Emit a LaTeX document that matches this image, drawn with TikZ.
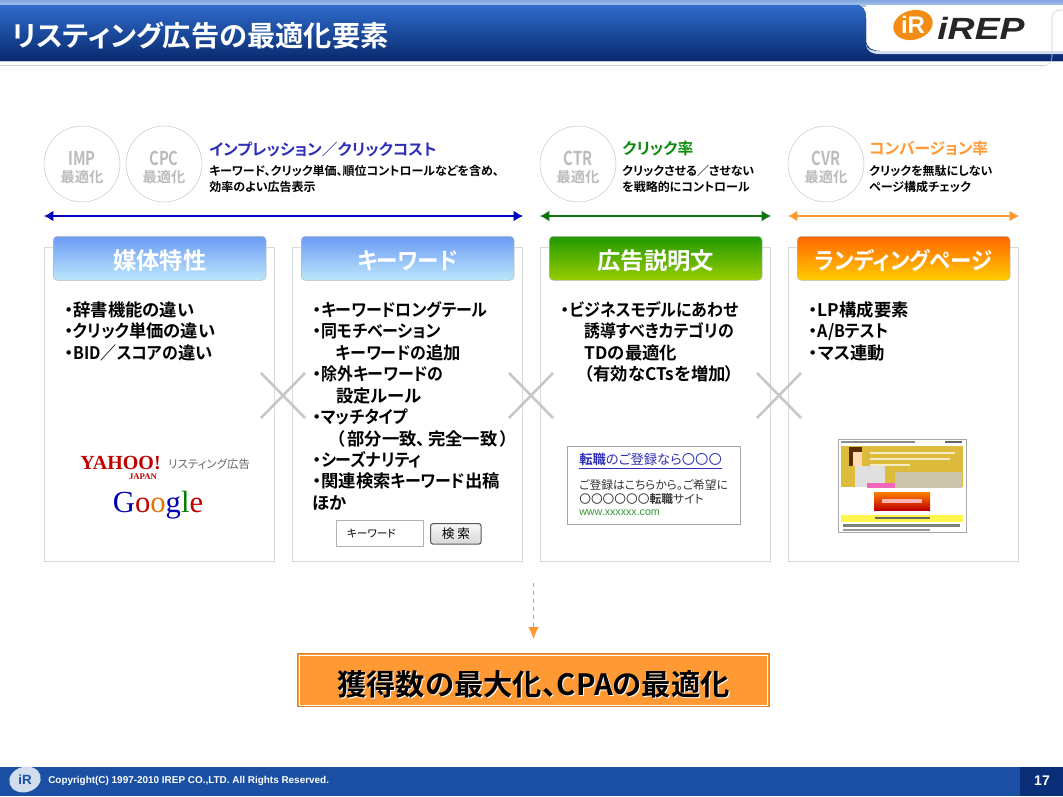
\documentclass[tikz,border=0pt]{standalone}
\usepackage{fontspec}
\setmainfont{Noto Sans CJK JP}[BoldFont={Noto Sans CJK JP Bold},RawFeature={+palt}]
\newfontfamily\latinfont{Liberation Sans}
\newfontfamily\logoserif{Liberation Serif}
\usepackage{xcolor}
\usetikzlibrary{shapes,arrows,arrows.meta,positioning,fit,calc}
\definecolor{navytop}{HTML}{2F6BCB}
\definecolor{navybot}{HTML}{08296E}
\definecolor{footblue}{HTML}{1A4FA3}
\definecolor{footdark}{HTML}{0A2F78}
\definecolor{bluehead}{HTML}{6C9BF5}
\definecolor{bluelow}{HTML}{BCE6FA}
\definecolor{greenhead}{HTML}{1F9900}
\definecolor{greenlow}{HTML}{99CC00}
\definecolor{orangehead}{HTML}{FF6600}
\definecolor{orangelow}{HTML}{FFCC00}
\definecolor{impgrey}{HTML}{BBBBBB}
\definecolor{linkblue}{HTML}{2E2EB8}
\definecolor{clickgreen}{HTML}{0E8A0E}
\definecolor{cvorange}{HTML}{FF9933}
\definecolor{panelline}{HTML}{D8D8D8}
\definecolor{logoorange}{HTML}{F28C12}
\definecolor{lpgold}{HTML}{DDBB3C}
\tikzset{
  optcircle/.style={draw=impgrey!80, fill=white, circle, minimum size=57, inner sep=0, align=center, text=impgrey, font=\bfseries\fontsize{13}{15}\selectfont},
  kindlabel/.style={anchor=west, inner sep=0, font=\bfseries\fontsize{11.85}{14}\selectfont},
  kindnote/.style={anchor=north west, inner sep=0, align=left, font=\bfseries\fontsize{9}{12}\selectfont},
  spanarrow/.style={{Latex[length=7,width=8]}-{Latex[length=7,width=8]}, line width=0.9},
  panel/.style={draw=panelline, fill=white, minimum width=172.6, minimum height=235.2, anchor=north west, inner sep=0},
  head/.style={draw=gray!55, rounded corners=3, minimum width=159.6, minimum height=33, anchor=north west, inner sep=0, text=white, text height=20pt, text depth=3pt, font=\bfseries\fontsize{17.5}{18}\selectfont},
  bluehd/.style={head, top color=bluehead, bottom color=bluelow},
  greenhd/.style={head, top color=greenhead, bottom color=greenlow},
  orangehd/.style={head, top color=orangehead, bottom color=orangelow},
  listing/.style={anchor=north west, inner sep=0, align=left, font=\bfseries\fontsize{13}{16.1}\selectfont},
  crossline/.style={draw=gray!45, line width=1.9},
}
\newcommand{\hatchpanel}[1]{%
  \begin{scope}
    \clip (#1.north west) rectangle (#1.south east);
    \foreach \d in {0,5,...,560} {
      \draw[black!5, line width=0.3] ($(#1.south west)+(\d-320,0)$) -- ++(320,320);
    }
  \end{scope}}
\newcommand{\optlabel}[1]{\raisebox{0pt}[15.6pt][0pt]{\scalebox{0.85}[1.1]{#1}}\\[-2pt]{\fontsize{10.7}{12}\selectfont 最適化}}
\newcommand{\listindent}{\hspace*{17.6pt}}
\newcommand{\kn}[1]{\scalebox{0.92}[1]{#1}}
\begin{document}
\begin{tikzpicture}[x=0.75pt,y=-0.75pt]
    \useasboundingbox (0,0) rectangle (1063,796);

    % title band
    \fill[top color=navytop!60!white, bottom color=white!60!navytop] (0,0) rectangle (1063,6);
    \fill[white] (866,5) rectangle (1063,51);
    \fill[top color=navytop, bottom color=navybot] (0,5) -- (855,5) .. controls (863,5) and (866,10) .. (866,18) -- (866,40) .. controls (866,48) and (872,51) .. (880,51) -- (1063,51) -- (1063,61) -- (0,61) -- cycle;
    \fill[navytop!22] (866,44) .. controls (867,50) and (872,51) .. (880,51) -- (1063,51) -- (1063,54) -- (880,54) .. controls (872,54) and (867,52) .. (866,44) -- cycle;
    \draw[gray!40, rounded corners=6] (0,65.5) -- (1052,65.5) -- (1052,10) -- (1063,10);
    \node[anchor=west, inner sep=0, text=white, font=\bfseries\fontsize{21.2}{24}\selectfont] (titletext) at (12,36) {リスティング広告の最適化要素};

    % logo
    \node[ellipse, fill=logoorange, minimum width=30, minimum height=22, inner sep=0, rotate=15] (toplogo) at (913,25) {};
    \node[inner sep=0, text=white, font=\latinfont\bfseries\fontsize{18}{18}\selectfont] (toplogomark) at (913,25) {iR};
    \node[anchor=west, inner sep=0, text=black!85, xscale=1.22, font=\latinfont\bfseries\itshape\fontsize{23}{23}\selectfont] (toplogoname) at (937,28) {iREP};

    % optimisation circles
    \node[optcircle] (imp) at (82,164) {\optlabel{IMP}};
    \node[optcircle] (cpc) at (164,164) {\optlabel{CPC}};
    \node[optcircle] (ctr) at (578,164) {\optlabel{CTR}};
    \node[optcircle] (cvr) at (826,164) {\optlabel{CVR}};

    \node[kindlabel, text=linkblue] (implabel) at (209,149) {インプレッション／クリックコスト};
    \node[kindnote] (impnote) at (209,165) {キーワード、クリック単価、順位コントロールなどを含め、\\効率のよい広告表示};
    \node[kindlabel, text=clickgreen] (ctrlabel) at (622,149) {クリック率};
    \node[kindnote] (ctrnote) at (622,165) {クリックさせる／させない\\を戦略的にコントロール};
    \node[kindlabel, text=cvorange] (cvrlabel) at (869,149) {コンバージョン率};
    \node[kindnote] (cvrnote) at (869,165) {クリックを無駄にしない\\ページ構成チェック};

    % span arrows
    \coordinate (blueleft) at (44,216);
    \coordinate (blueright) at (523,216);
    \coordinate (greenleft) at (540,216);
    \coordinate (greenright) at (771,216);
    \coordinate (orangeleft) at (788,216);
    \coordinate (orangeright) at (1019,216);
    \draw[spanarrow, blue!75!black] (blueleft) -- (blueright);
    \draw[spanarrow, clickgreen!85!black] (greenleft) -- (greenright);
    \draw[spanarrow, cvorange] (orangeleft) -- (orangeright);

    % panels
    \node[panel] (media) at (44,247) {};
    \node[panel] (keyword) at (292,247) {};
    \node[panel] (addesc) at (540,247) {};
    \node[panel] (landing) at (788,247) {};
    \foreach \p in {media,keyword,addesc,landing} {
        \hatchpanel{\p}
        \draw[panelline] (\p.north west) rectangle (\p.south east);
    }

    \node[bluehd] (mediahd) at (53,236) {媒体特性};
    \node[bluehd] (keywordhd) at (301,236) {\kn{キーワード}};
    \node[greenhd] (addeschd) at (549,236) {広告説明文};
    \node[orangehd] (landinghd) at (797,236) {\kn{ランディングページ}};

    % lists
    \node[listing] (medialist) at (64.5,301) {・辞書機能の違い\\・\kn{クリック}単価の違い\\・\kn{BID／スコアの}違い};
    \node[listing] (keywordlist) at (312.5,301) {・\kn{キーワードロングテール}\\・\kn{同モチベーション}\\\listindent\kn{キーワードの}追加\\・\kn{除外キーワードの}\\\listindent 設定ルール\\・\kn{マッチタイプ}\\\listindent（\hspace{2pt}部分一致、\hspace{2pt}完全一致\hspace{2pt}）\\・\kn{シーズナリティ}\\・関連検索\kn{キーワード}出稿\\ほか};
    \node[listing] (addesclist) at (561,301) {・\kn{ビジネスモデルにあわせ}\\\listindent\kn{誘導すべきカテゴリの}\\\listindent TDの最適化\\\listindent（有効なCTsを増加）};
    \node[listing] (landinglist) at (809,301) {・LP構成要素\\・\kn{A/Bテスト}\\・マス連動};

    % crosses
    \foreach \c in {283,531,779} {
        \draw[crossline] (\c-22,373) -- (\c+22,418);
        \draw[crossline] (\c+22,373) -- (\c-22,418);
    }

    % media logos
    \node[anchor=west, inner sep=0, text=red!75!black, font=\logoserif\bfseries\fontsize{15}{15}\selectfont] (yahoo) at (80,463) {YAHOO!};
    \node[inner sep=0, text=red!75!black, font=\logoserif\bfseries\fontsize{6.5}{7}\selectfont] (yahoojp) at (143,477) {JAPAN};
    \node[anchor=west, inner sep=0, text=black!60, font=\fontsize{8.6}{10}\selectfont] (yahootag) at (168,464) {リスティング広告};
    \node[inner sep=0, font=\logoserif\fontsize{23}{23}\selectfont] (google) at (158,505) {\textcolor{blue!70!black}{G}\textcolor{red!75!black}{o}\textcolor{orange!90!black}{o}\textcolor{blue!70!black}{g}\textcolor{green!50!black}{l}\textcolor{red!75!black}{e}};

    % search box
    \node[draw=gray!60, fill=white, anchor=north west, minimum width=65, minimum height=19.5, text width=49pt, inner xsep=8pt, inner ysep=0, font=\fontsize{8}{9}\selectfont] (searchfield) at (336,520) {キーワード};
    \node[draw=gray!70!black, top color=black!3, bottom color=black!15, rounded corners=2, line width=0.8, anchor=north west, minimum width=38, minimum height=15.5, inner sep=0, font=\fontsize{9.5}{10}\selectfont] (searchbtn) at (430,523) {検 索};

    % sample ad
    \node[draw=gray!70, fill=white, anchor=north west, minimum width=130, minimum height=58.5, inner sep=0] (adbox) at (567,446) {};
    \node[anchor=west, inner sep=0, text=linkblue, font=\fontsize{10}{12}\selectfont] (adtitle) at (579,461) {\underline{\textbf{転職}のご登録なら〇〇〇}};
    \node[anchor=north west, inner sep=0, align=left, text=black!80, font=\fontsize{8.8}{10.8}\selectfont] (adbody) at (579,479) {ご登録はこちらから。ご希望に\\〇〇〇〇〇〇\textbf{転職}サイト};
    \node[anchor=west, inner sep=0, text=green!50!black!80, font=\latinfont\fontsize{8}{9}\selectfont] (adurl) at (579,513) {www.xxxxxx.com};

    % landing page thumbnail
    \node[draw=gray!70, fill=white, anchor=north west, minimum width=96, minimum height=70, inner sep=0] (lpthumb) at (838,439) {};
    \fill[black!45] (841,441) rectangle (915,443);
    \fill[black!60] (945,441) rectangle (962,443);
    \fill[lpgold] (841,446) rectangle (963,487);
    \fill[white!55!gray!80!lpgold] (895,472) rectangle (962,488);
    \fill[black!65!orange] (849,447) rectangle (862,466);
    \fill[orange!30!white] (853,452) rectangle (862,466);
    \fill[black!12] (855,466) rectangle (885,487);
    \fill[magenta!60] (867,483) rectangle (895,488);
    \fill[white!70!lpgold] (870,452) rectangle (955,454);
    \fill[white!70!lpgold] (870,458) rectangle (950,460);
    \fill[white!70!lpgold] (870,464) rectangle (910,466);
    \fill[top color=orange, bottom color=red!75!black] (874,492) rectangle (930,510);
    \fill[white!70!red] (882,499) rectangle (922,503);
    \fill[yellow!70] (841,515) rectangle (963,522);
    \fill[black!60] (875,517) rectangle (930,519);
    \fill[black!50] (843,524) rectangle (960,527);
    \fill[black!40] (843,529) rectangle (930,531);

    % result
    \coordinate (resultfrom) at (533.5,583);
    \coordinate (resultto) at (533.5,639);
    \node[draw=cvorange!85!black, fill=cvorange, minimum width=354, minimum height=40, inner sep=0] (result) at (533.5,680) {};
    \draw[white, line width=0.5] ($(result.north west)+(2,2)$) rectangle ($(result.south east)+(-2,-2)$);
    \node[white, inner sep=0, font=\bfseries\fontsize{22}{24}\selectfont] (resultshadow) at (534.5,685) {獲得数の最大化、CPAの最適化};
    \node[inner sep=0, font=\bfseries\fontsize{22}{24}\selectfont] (resulttext) at (533.5,684) {獲得数の最大化、CPAの最適化};
    \draw[-{Latex[length=9,width=8]}, dashed, cvorange, line width=0.75] (resultfrom) -- (resultto);

    % footer
    \fill[footblue] (0,767) rectangle (1063,796);
    \fill[footdark] (1020,767) rectangle (1063,796);
    \node[ellipse, fill=white!80!footblue, minimum width=24, minimum height=19, inner sep=0, rotate=15] (footlogo) at (25,779.5) {};
    \node[inner sep=0, text=footblue, font=\latinfont\bfseries\fontsize{10}{10}\selectfont] (footlogomark) at (25,779.5) {iR};
    \node[anchor=west, inner sep=0, text=white, font=\latinfont\bfseries\fontsize{7.45}{8}\selectfont] (copyright) at (48,781) {Copyright(C) 1997-2010 IREP CO.,LTD. All Rights Reserved.};
    \node[inner sep=0, text=white, font=\latinfont\bfseries\fontsize{10.5}{12}\selectfont] (pageno) at (1042,781) {17};
\end{tikzpicture}
\end{document}
